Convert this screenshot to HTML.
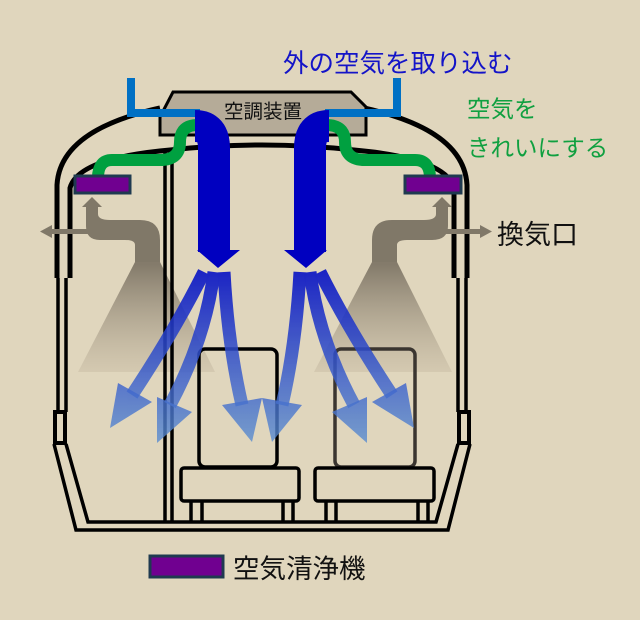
<!DOCTYPE html>
<html><head><meta charset="utf-8"><style>
html,body{margin:0;padding:0;background:#e0d6bd;}
svg{display:block;}
text{font-family:"Liberation Sans","Noto Sans CJK JP",sans-serif;}
</style></head><body>
<svg width="640" height="620" viewBox="0 0 640 620" xmlns="http://www.w3.org/2000/svg">
<defs>
<linearGradient id="fan" x1="0" y1="265" x2="0" y2="372" gradientUnits="userSpaceOnUse">
<stop offset="0" stop-color="#847b6b"/><stop offset="1" stop-color="#c8bca4" stop-opacity="0.5"/>
</linearGradient>
<linearGradient id="bl" x1="0" y1="270" x2="0" y2="445" gradientUnits="userSpaceOnUse">
<stop offset="0" stop-color="#0a14c4"/><stop offset="1" stop-color="#5a8ed0" stop-opacity="0.85"/>
</linearGradient>
</defs>
<rect width="640" height="620" fill="#e0d6bd"/>
<polygon points="135,262 160,262 215,372 78,372" fill="url(#fan)"/>
<polygon points="372,262 397,262 452,372 314,372" fill="url(#fan)"/>
<g fill="none" stroke="#000" stroke-width="5">
<path d="M57,278 L57,185 Q60,130 160,108"/>
<path d="M467,278 L467,185 Q464,130 364,108"/>
<path d="M70,278 L70,188 Q78,158 170,150 Q262,140 354,150 Q446,158 454,188 L454,278"/>
</g>
<g fill="none" stroke="#000" stroke-width="3.5">
<path d="M58,278 L58,412 M66,278 L66,412"/>
<path d="M458,278 L458,412 M466,278 L466,412"/>
<rect x="55" y="412" width="10" height="31" stroke-width="4"/>
<rect x="459" y="412" width="10" height="31" stroke-width="4"/>
<path d="M54,444 L76,530 L448,530 L470,444"/>
<path d="M66,444 L88,522 L436,522 L458,444"/>
<path d="M165,150 L165,522 M172,150 L172,522"/>
</g>
<polygon points="160,117 173,92 351,92 366,107 366,135 160,135" fill="#b5ab98" stroke="#000" stroke-width="3"/>
<text x="263" y="118" font-size="19.5" text-anchor="middle" fill="#111">空調装置</text>
<path d="M131,78 L131,113 L200,113" fill="none" stroke="#0070c4" stroke-width="8"/>
<path d="M397,78 L397,113 L325,113" fill="none" stroke="#0070c4" stroke-width="8"/>
<path d="M198,125 Q180,125 180,142 Q180,160 160,160 L112,160 Q98,160 98,178" fill="none" stroke="#00a040" stroke-width="12"/>
<path d="M326,125 Q345,125 345,142 Q345,160 365,160 L415,160 Q430,160 430,178" fill="none" stroke="#00a040" stroke-width="12"/>
<path d="M195,126 Q214,126 214,148 L214,252" fill="none" stroke="#0000c0" stroke-width="32"/>
<polygon points="197,250 240,250 218,268" fill="#0000c0"/>
<path d="M329,126 Q310,126 310,148 L310,252" fill="none" stroke="#0000c0" stroke-width="32"/>
<polygon points="284,250 327,250 306,268" fill="#0000c0"/>
<rect x="75" y="176" width="55" height="17" fill="#700090" stroke="#1f3a50" stroke-width="3"/>
<rect x="405" y="176" width="56" height="17" fill="#700090" stroke="#1f3a50" stroke-width="3"/>
<g fill="#807868">
<polygon points="82,207 92,197 102,207"/>
<path d="M86,206 L98,206 L98,214 Q98,220 110,220 L140,220 Q160,220 160,240 L160,262 L135,262 L135,245 Q135,240 125,240 L100,240 Q86,240 86,226 Z"/>
<rect x="50" y="229" width="80" height="5"/>
<polygon points="40,231.5 52,225 52,238"/>
<polygon points="432,207 442,197 452,207"/>
<path d="M448,206 L436,206 L436,214 Q436,220 424,220 L392,220 Q372,220 372,240 L372,262 L397,262 L397,245 Q397,240 407,240 L432,240 Q448,240 448,226 Z"/>
<rect x="400" y="229" width="82" height="5"/>
<polygon points="492,231.5 480,225 480,238"/>
</g>
<g fill="none" stroke="#000" stroke-width="3.5">
<rect x="199" y="349" width="78" height="118" rx="6"/>
<rect x="181" y="468" width="118" height="33" rx="3"/>
<path d="M191,501 V521 M202,501 V521 M283,501 V521 M293,501 V521"/>
<rect x="335" y="349" width="80" height="118" rx="6" stroke="#3a3530"/>
<rect x="315" y="468" width="119" height="33" rx="3"/>
<path d="M326,501 V521 M336,501 V521 M418,501 V521 M428,501 V521"/>
</g>
<g fill="none" stroke="url(#bl)" stroke-width="13" opacity="0.92">
<path d="M204,272 Q175,330 132,395"/>
<path d="M214,272 Q205,340 170,405"/>
<path d="M224,272 Q228,345 242,405"/>
<path d="M320,272 Q349,330 392,395"/>
<path d="M310,272 Q319,340 354,405"/>
<path d="M300,272 Q296,345 282,405"/>
</g>
<g fill="url(#bl)" opacity="0.92">
<polygon points="110,428 118,383 152,402"/>
<polygon points="157,443 157,397 192,412"/>
<polygon points="252,442 222,405 262,398"/>
<polygon points="414,428 406,383 372,402"/>
<polygon points="367,443 367,397 332,412"/>
<polygon points="272,442 302,405 262,398"/>
</g>
<text x="283" y="72" font-size="25.5" fill="#1414c8">外の空気を取り込む</text>
<text x="467" y="117" font-size="23.5" fill="#10a040">空気を</text>
<text x="467" y="156" font-size="23.5" fill="#10a040">きれいにする</text>
<text x="497" y="244" font-size="27" fill="#111">換気口</text>
<rect x="150" y="556" width="73" height="21" fill="#700090" stroke="#1f3a50" stroke-width="3"/>
<text x="233" y="578" font-size="26.5" fill="#111">空気清浄機</text>
</svg>
</body></html>
